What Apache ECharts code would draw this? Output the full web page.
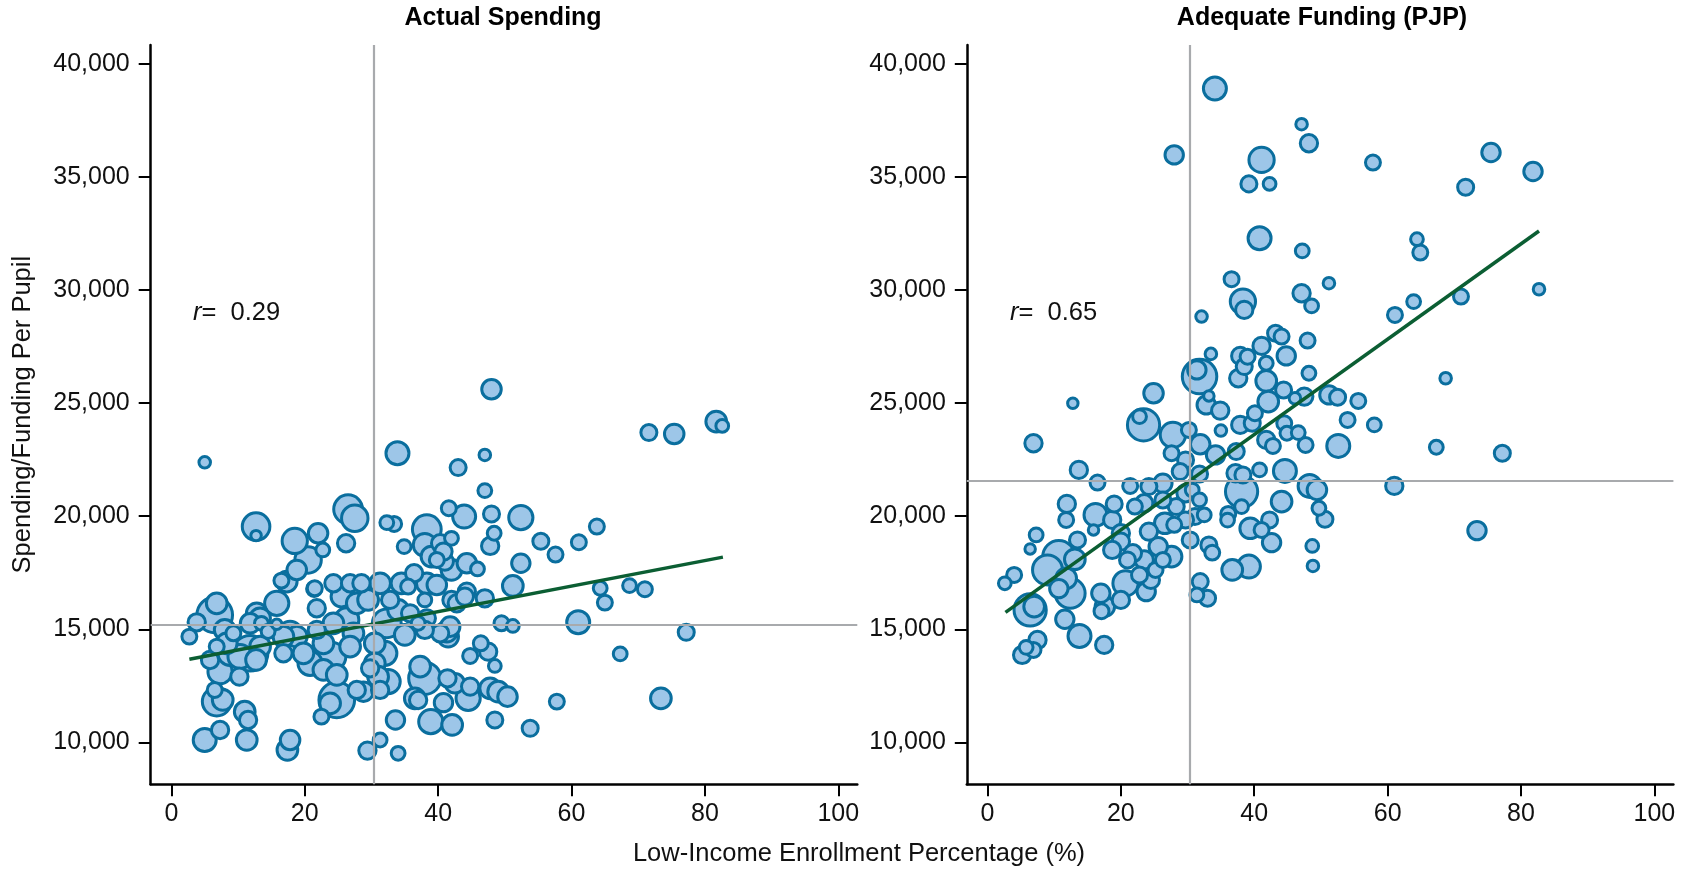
<!DOCTYPE html>
<html>
<head>
<meta charset="utf-8">
<title>Spending vs Low-Income Enrollment</title>
<script src="https://cdn.jsdelivr.net/npm/echarts@6/dist/echarts.min.js"></script>
<style>
  html, body { margin: 0; padding: 0; background: #fff; }
  #chart { width: 1683px; height: 875px; }
</style>
</head>
<body>
<div id="chart"></div>
<script>
// tick labels
const xTicks = [0, 20, 40, 60, 80, 100]
const yTicks = [10000, 15000, 20000, 25000, 30000, 35000, 40000]

// Actual spending panel: low-income %, spending per pupil, enrollment (thousands)
const actualX = [
  5.0, 12.7, 12.7, 18.5, 22.0, 22.7, 26.2, 26.5, 27.5, 20.5,
  18.8, 17.3, 16.5, 21.4, 15.8, 6.8, 6.5, 3.8, 2.7, 8.0,
  12.8, 11.8, 15.8, 6.8, 7.3, 10.2, 6.5, 6.8, 7.7, 11.0,
  11.5, 7.3, 5.0, 11.3, 17.8, 17.4, 22.5, 23.8, 24.8, 9.3,
  13.3, 17.8, 16.8, 11.8, 8.8, 13.3, 18.8, 19.8, 20.8, 22.8,
  24.0, 22.8, 24.8, 21.8, 24.3, 21.8, 21.5, 24.3, 26.8, 25.5,
  27.8, 13.5, 16.8, 26.3, 27.3, 26.8, 27.8, 8.3, 10.3, 12.7,
  14.5, 5.8,
  48.0, 33.9, 47.0, 43.0, 47.0, 41.6, 43.9, 48.0, 52.4, 48.4,
  47.8, 55.4, 57.6, 52.4, 51.2, 47.0, 49.5, 51.2, 57.8, 53.8,
  48.5, 42.1, 38.9, 33.6, 29.4, 31.3, 34.0, 40.8, 36.5, 37.0,
  44.5, 47.8, 49.0, 50.4, 44.8, 42.5, 41.4, 38.0, 37.3, 48.5,
  47.5, 46.4, 44.8, 41.5, 41.8, 40.3, 38.3, 37.0, 35.0, 32.3,
  30.5, 32.0, 30.5, 31.0, 32.5, 31.3, 28.8, 29.8, 34.0, 32.8,
  29.5, 31.3, 28.5, 34.5, 36.4, 35.5, 38.3, 39.8, 38.0, 42.0,
  42.8, 44.3, 42.0, 41.0, 39.8, 44.3, 45.9, 38.3, 38.0, 40.3,
  42.0, 40.8, 39.0, 34.9, 32.3, 33.4, 35.8, 38.0, 41.3, 44.0,
  61.0, 64.3, 65.0, 68.7, 71.0, 63.8, 61.1, 67.3, 73.4, 77.2,
  71.6, 75.4, 81.7, 82.6
]
const actualY = [
  22388, 19541, 19143, 18907, 19247, 18509, 18804, 20309, 19910, 18067,
  17624, 17108, 17152, 16783, 16149, 16149, 15633, 15308, 14674, 14969,
  15707, 15264, 15220, 14232, 13125, 12904, 12314, 11798, 11872, 11355,
  10986, 10544, 10101, 10101, 10101, 9659, 11134, 11724, 11872, 14821,
  15485, 14821, 13937, 13937, 13937, 14232, 14674, 13937, 13494, 14379,
  13789, 13199, 12978, 14969, 15264, 15928, 16813, 17034, 17034, 16444,
  16149, 15264, 14674, 15411, 14821, 14232, 12314, 14379, 13789, 13642,
  14900, 13641,
  25618, 22786, 22713, 22152, 21134, 20353, 19984, 20102, 19940, 19247,
  18686, 18893, 18303, 17919, 16916, 16370, 15264, 15146, 11798, 10618,
  10986, 10765, 10913, 10986, 9630, 10101, 9512, 11753, 11946, 11871,
  11946, 12388, 12240, 12019, 12462, 12609, 12830, 12830, 13347, 13376,
  14010, 14379, 13819, 14674, 15116, 14821, 15485, 15264, 14748, 15264,
  14380, 13937, 13494, 12904, 12683, 12314, 12240, 13273, 15854, 16297,
  16297, 17034, 17034, 17034, 17477, 16887, 17034, 16960, 16297, 16297,
  16150, 16666, 17624, 17993, 18067, 17919, 17668, 19424, 18731, 18805,
  19025, 18435, 18214, 18657, 19718, 19659, 15706, 14969, 14895, 16444,
  15309, 16814, 16179, 16931, 16769, 19542, 18849, 13908, 11946, 14866,
  23702, 23642, 24188, 23996
]
const actualEnroll = [
  2.8, 16.0, 2.3, 13.4, 8.0, 4.0, 6.3, 17.4, 14.7, 14.7,
  8.0, 9.0, 4.7, 4.7, 12.3, 9.0, 26.7, 6.3, 4.7, 9.0,
  9.0, 8.0, 2.3, 4.7, 12.3, 6.3, 4.7, 17.4, 9.0, 9.0,
  6.3, 6.3, 11.1, 9.0, 8.0, 9.0, 4.7, 9.0, 26.7, 4.7,
  9.0, 12.3, 6.3, 26.7, 12.3, 9.0, 9.0, 9.0, 12.3, 9.0,
  17.4, 9.0, 9.0, 6.3, 9.0, 6.3, 4.7, 6.3, 6.3, 9.0,
  9.0, 4.0, 9.0, 12.3, 9.0, 9.0, 6.3, 9.0, 12.3, 9.0,
  4.0, 6.3,
  8.0, 11.1, 2.8, 5.4, 4.0, 4.7, 11.1, 5.4, 12.3, 4.0,
  6.3, 5.4, 4.7, 7.1, 9.0, 6.3, 4.7, 3.4, 4.7, 5.4,
  5.4, 9.0, 12.3, 7.1, 6.3, 4.0, 4.0, 7.1, 9.0, 6.3,
  12.3, 9.0, 9.0, 8.0, 6.3, 8.0, 6.3, 21.8, 9.0, 3.4,
  6.3, 4.7, 4.7, 9.0, 8.0, 6.3, 6.3, 4.0, 9.0, 17.4,
  9.0, 12.3, 9.0, 9.0, 12.3, 6.3, 8.0, 6.3, 9.0, 6.3,
  9.0, 9.0, 6.3, 9.0, 6.3, 4.7, 9.0, 8.0, 4.0, 6.3,
  6.3, 6.3, 9.0, 6.3, 4.7, 8.0, 4.0, 17.4, 11.1, 6.3,
  4.0, 6.3, 9.0, 4.0, 4.0, 4.7, 6.3, 6.3, 9.0, 6.3,
  11.1, 4.0, 4.7, 4.0, 4.7, 4.7, 4.7, 4.0, 9.0, 5.4,
  5.4, 8.0, 9.0, 3.4
]

// Adequate funding (PJP) panel
const pjpX = [
  34.1, 47.1, 48.2, 28.0, 41.1, 39.2, 42.3, 57.8, 75.5, 81.8,
  71.7, 40.8, 47.2, 64.4, 64.9, 82.7, 36.6, 51.2, 47.1, 48.6,
  38.3, 38.5, 32.1, 71.0, 63.9, 61.1, 43.2, 44.1, 48.0, 41.1,
  33.5, 37.9, 39.0, 44.8, 41.8, 38.5, 31.8, 31.4, 37.6, 41.8,
  48.2, 68.7, 12.8, 24.9, 44.4, 33.2, 51.2, 52.5, 55.6, 47.5,
  42.1, 34.9, 32.8, 46.1, 23.4, 22.8, 27.8, 30.2, 35.0, 31.9,
  6.9, 37.9, 39.7, 40.1, 44.5, 54.0, 58.0, 44.9, 46.6, 47.7,
  41.8, 42.8, 52.6, 67.3, 77.2, 34.2, 37.3, 27.6, 29.7, 13.7,
  16.5, 21.4, 24.2, 26.3, 28.9, 31.8, 37.2, 38.3, 40.8, 44.6,
  38.1, 48.3, 49.4, 61.0, 44.1, 49.7, 50.6, 42.3, 39.4, 41.1,
  42.6, 36.1, 36.0, 38.1, 48.7, 48.8, 36.7, 39.2, 33.2, 33.7,
  31.9, 31.4, 33.0, 73.4, 31.1, 32.5, 29.7, 26.6, 28.0, 24.2,
  25.6, 27.6, 30.4, 29.7, 30.7, 28.3, 26.3, 23.5, 22.1, 19.0,
  16.2, 11.9, 11.8, 15.9, 18.7, 20.0, 20.0, 18.7, 21.8, 23.5,
  21.0, 13.5, 10.7, 13.1, 7.3, 6.4, 9.0, 11.8, 12.4, 10.7,
  6.4, 7.0, 11.6, 4.0, 2.6, 17.0, 17.6, 17.1, 20.0, 20.7,
  23.8, 24.5, 25.2, 22.8, 13.8, 17.5, 7.5, 5.2, 6.9, 5.8,
  26.3, 31.8
]
const pjpY = [
  38924, 37345, 36504, 35988, 35767, 34705, 34705, 35649, 36092, 35251,
  34557, 32301, 31740, 32257, 31667, 30044, 30487, 30310, 29867, 29307,
  29498, 29130, 28834, 29720, 29498, 28908, 28097, 27950, 27772, 27536,
  27183, 27094, 27060, 27094, 26770, 26622, 26180, 26475, 26106, 25988,
  26327, 26106, 24999, 25442, 25589, 25324, 25368, 25265, 25102, 25295,
  25073, 24675, 24926, 25221, 24041, 24409, 23598, 23820, 23790, 23185,
  23229, 24041, 24114, 24557, 24114, 24262, 24041, 23672, 23701, 23156,
  23377, 23111, 23111, 23052, 22787, 22713, 22861, 22787, 22492, 22050,
  21489, 21342, 21312, 21460, 21976, 21873, 21902, 21828, 22050, 22006,
  21091, 21342, 21165, 21342, 20648, 20353, 19867, 19837, 19468, 19394,
  18834, 20103, 19830, 20427, 18686, 17802, 17624, 17772, 18730, 18391,
  17108, 16518, 16371, 19365, 19984, 20060, 19837, 19690, 19620, 19321,
  18657, 18214, 18951, 21017, 21160, 20427, 20722, 20574, 20427, 20545,
  20058, 20545, 19837, 19394, 19837, 19247, 18878, 18509, 18362, 18067,
  18067, 18952, 18214, 18097, 19173, 18554, 17624, 17256, 16592, 16800,
  15855, 16002, 15442, 17403, 17034, 16592, 16002, 15800, 16297, 17034,
  16666, 17182, 17624, 17400, 14704, 14306, 14527, 13863, 14084, 14200,
  18067, 20722
]
const pjpEnroll = [
  11.1, 2.8, 6.3, 7.1, 13.4, 5.4, 3.4, 4.7, 7.1, 7.1,
  5.4, 11.1, 4.0, 3.4, 4.7, 2.8, 4.7, 2.8, 6.3, 4.0,
  13.4, 6.3, 2.8, 4.7, 4.0, 4.7, 5.4, 4.7, 4.7, 6.3,
  2.8, 6.3, 4.7, 7.1, 4.0, 5.4, 25.0, 7.1, 6.3, 9.0,
  4.0, 2.8, 2.3, 8.0, 5.4, 2.3, 7.1, 5.4, 4.7, 6.3,
  9.0, 6.3, 7.1, 2.8, 21.8, 4.0, 13.4, 4.7, 2.8, 8.0,
  6.3, 6.3, 5.4, 4.7, 4.7, 4.7, 4.0, 4.0, 4.0, 4.7,
  6.3, 4.7, 11.1, 4.0, 5.4, 7.1, 5.4, 4.7, 5.4, 6.3,
  4.7, 4.7, 5.4, 7.1, 5.4, 5.4, 6.3, 5.4, 4.0, 11.1,
  21.8, 11.1, 8.0, 6.3, 9.0, 4.0, 5.4, 5.4, 9.0, 4.7,
  7.1, 4.7, 4.0, 4.0, 3.4, 2.8, 9.0, 11.1, 5.4, 4.7,
  5.4, 4.0, 5.4, 7.1, 5.4, 4.0, 5.4, 9.0, 4.7, 6.3,
  7.1, 9.0, 5.4, 6.3, 4.0, 5.4, 5.4, 6.3, 4.7, 5.4,
  11.1, 6.3, 4.7, 2.3, 6.3, 6.3, 6.3, 6.3, 6.3, 7.1,
  5.4, 5.4, 21.8, 9.0, 4.0, 2.3, 18.8, 9.0, 18.8, 7.1,
  21.8, 9.0, 7.1, 4.7, 3.4, 7.1, 8.0, 4.7, 6.3, 13.4,
  7.1, 6.3, 4.7, 5.4, 11.1, 6.3, 6.3, 6.3, 4.7, 4.0,
  4.7, 4.0
]

// fitted lines and mean reference lines
const actualTrend = [[2.7, 13670], [82.7, 18190]]
const pjpTrend = [[2.7, 15750], [82.7, 32620]]
const meanX = [30.3, 30.3]
const meanY = [15220, 21580]
const rValues = ['0.29', '0.65']
const panelTitles = ['Actual Spending', 'Adequate Funding (PJP)']

const font = "'Liberation Sans', Arial, Helvetica, sans-serif"
const fill = '#9DC6E8'
const edge = '#0A6E9E'

function toPoints(xs, ys, es) {
  // biggest bubbles first so small ones stay visible on top
  return xs.map((x, i) => [x, ys[i], es[i]]).sort((a, b) => b[2] - a[2])
}

function xAxis(gridIndex) {
  return {
    type: 'value', gridIndex, min: -3.1, max: 102.85,
    axisLine: { onZero: false, lineStyle: { color: '#000', width: 2.5 } },
    axisTick: { customValues: xTicks, length: 12, lineStyle: { color: '#000', width: 2 } },
    axisLabel: { customValues: xTicks, margin: 17, fontSize: 25, color: '#111', fontFamily: font },
    splitLine: { show: false }
  }
}

function yAxis(gridIndex) {
  return {
    type: 'value', gridIndex, min: 8140, max: 40850,
    axisLine: { onZero: false, lineStyle: { color: '#000', width: 2.5 } },
    axisTick: { customValues: yTicks, length: 12, lineStyle: { color: '#000', width: 2 } },
    axisLabel: {
      customValues: yTicks, margin: 21, fontSize: 25, color: '#111', fontFamily: font,
      formatter: v => v.toLocaleString('en-US')
    },
    splitLine: { show: false }
  }
}

const grids = [
  { left: 150.7, top: 45, width: 706.6, height: 739.3 },
  { left: 966.8, top: 45, width: 706.6, height: 739.3 }
]

const yAxes = [yAxis(0), yAxis(1)]
yAxes[0].name = 'Spending/Funding Per Pupil'
yAxes[0].nameLocation = 'middle'
yAxes[0].nameGap = 115
yAxes[0].nameTextStyle = { fontSize: 25.5, color: '#111', fontFamily: font }

const panels = [
  { points: toPoints(actualX, actualY, actualEnroll), trend: actualTrend },
  { points: toPoints(pjpX, pjpY, pjpEnroll), trend: pjpTrend }
]

const series = []
panels.forEach((p, i) => {
  series.push({
    type: 'line', xAxisIndex: i, yAxisIndex: i, data: [], z: 1, silent: true,
    markLine: {
      silent: true, symbol: 'none', animation: false,
      label: { show: false },
      lineStyle: { color: '#A8AAAD', width: 2.2, type: 'solid' },
      emphasis: { disabled: true },
      data: [{ xAxis: meanX[i] }, { yAxis: meanY[i] }]
    }
  })
  series.push({
    type: 'scatter', xAxisIndex: i, yAxisIndex: i, z: 2,
    data: p.points,
    symbolSize: v => 6.9 * Math.sqrt(v[2]),
    itemStyle: { color: fill, borderColor: edge, borderWidth: 3, opacity: 1 },
    emphasis: { disabled: true }
  })
  series.push({
    type: 'line', xAxisIndex: i, yAxisIndex: i, z: 3,
    data: p.trend, showSymbol: false, silent: true,
    lineStyle: { color: '#0B5E33', width: 3.5 }
  })
})

const titleStyle = { fontSize: 25, fontWeight: 'bold', color: '#000', fontFamily: font }
const rStyle = {
  fontSize: 25.5, fontWeight: 'normal', color: '#111', fontFamily: font,
  rich: { i: { fontSize: 25.5, fontStyle: 'italic', color: '#111', fontFamily: font } }
}

const option = {
  animation: false,
  backgroundColor: '#fff',
  title: [
    { text: panelTitles[0], left: 503, top: 6, textAlign: 'center', padding: 0, textStyle: titleStyle },
    { text: panelTitles[1], left: 1322, top: 6, textAlign: 'center', padding: 0, textStyle: titleStyle },
    {
      text: 'Low-Income Enrollment Percentage (%)', left: 859, top: 841, textAlign: 'center', padding: 0,
      textStyle: { fontSize: 25.5, fontWeight: 'normal', color: '#111', fontFamily: font }
    },
    { text: '{i|r}=  ' + rValues[0], left: 193, top: 300, padding: 0, textStyle: rStyle },
    { text: '{i|r}=  ' + rValues[1], left: 1010, top: 300, padding: 0, textStyle: rStyle }
  ],
  grid: grids,
  xAxis: [xAxis(0), xAxis(1)],
  yAxis: yAxes,
  series
}

const chart = echarts.init(document.getElementById('chart'))
chart.setOption(option)
window.addEventListener('resize', () => chart.resize())
</script>
</body>
</html>
